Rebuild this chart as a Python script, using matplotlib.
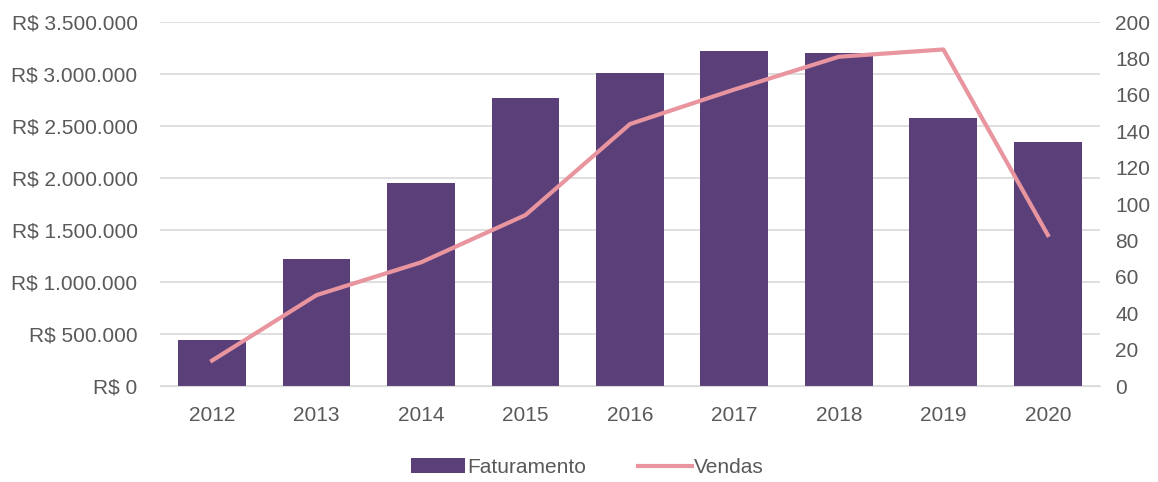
import matplotlib.pyplot as plt
from matplotlib.ticker import FuncFormatter

anos = ['2012', '2013', '2014', '2015', '2016', '2017', '2018', '2019', '2020']
faturamento = [445000, 1225000, 1955000, 2775000, 3015000, 3225000, 3205000, 2580000, 2350000]
vendas = [14, 50, 68, 94, 144, 163, 181, 185, 83]

cor_barra = '#5B3F78'
cor_linha = '#E8959F'
cor_texto = '#595959'

plt.rcParams['font.family'] = ['Liberation Sans', 'DejaVu Sans']

fig = plt.figure(figsize=(11.58, 4.82), dpi=100)
ax = fig.add_axes([0.138, 0.199, 0.812, 0.755])
x = range(len(anos))
barras = ax.bar(x, faturamento, width=0.65, color=cor_barra, zorder=2, label='Faturamento')
ax.set_ylim(0, 3500000)
ax.set_xlim(-0.5, len(anos) - 0.5)
ax.set_yticks(range(0, 3500001, 500000))
ax.yaxis.set_major_formatter(FuncFormatter(lambda v, p: 'R$ ' + f'{int(v):,}'.replace(',', '.')))
ax.set_xticks(list(x))
ax.set_xticklabels(anos)
ax.grid(axis='y', color='#D9D9D9', linewidth=1.2, zorder=0)
for s in ['top', 'right', 'left']:
    ax.spines[s].set_visible(False)
ax.spines['bottom'].set_color('#D9D9D9')
ax.tick_params(axis='both', length=0, labelsize=15, colors=cor_texto)
ax.tick_params(axis='y', pad=16)
ax.tick_params(axis='x', pad=14)

ax2 = ax.twinx()
linha, = ax2.plot(x, vendas, color=cor_linha, linewidth=3, zorder=3, label='Vendas')
ax2.set_ylim(0, 200)
ax2.set_yticks(range(0, 201, 20))
for s in ax2.spines.values():
    s.set_visible(False)
ax2.tick_params(axis='y', length=0, labelsize=15, colors=cor_texto, pad=11)

fig.legend([barras, linha], ['Faturamento', 'Vendas'], loc='center', bbox_to_anchor=(0.507, 0.03),
           ncol=2, frameon=False, fontsize=15, labelcolor=cor_texto, handlelength=2.6,
           handletextpad=0.1, columnspacing=2.5)

fig.savefig('out.png', dpi=100, facecolor='white')
